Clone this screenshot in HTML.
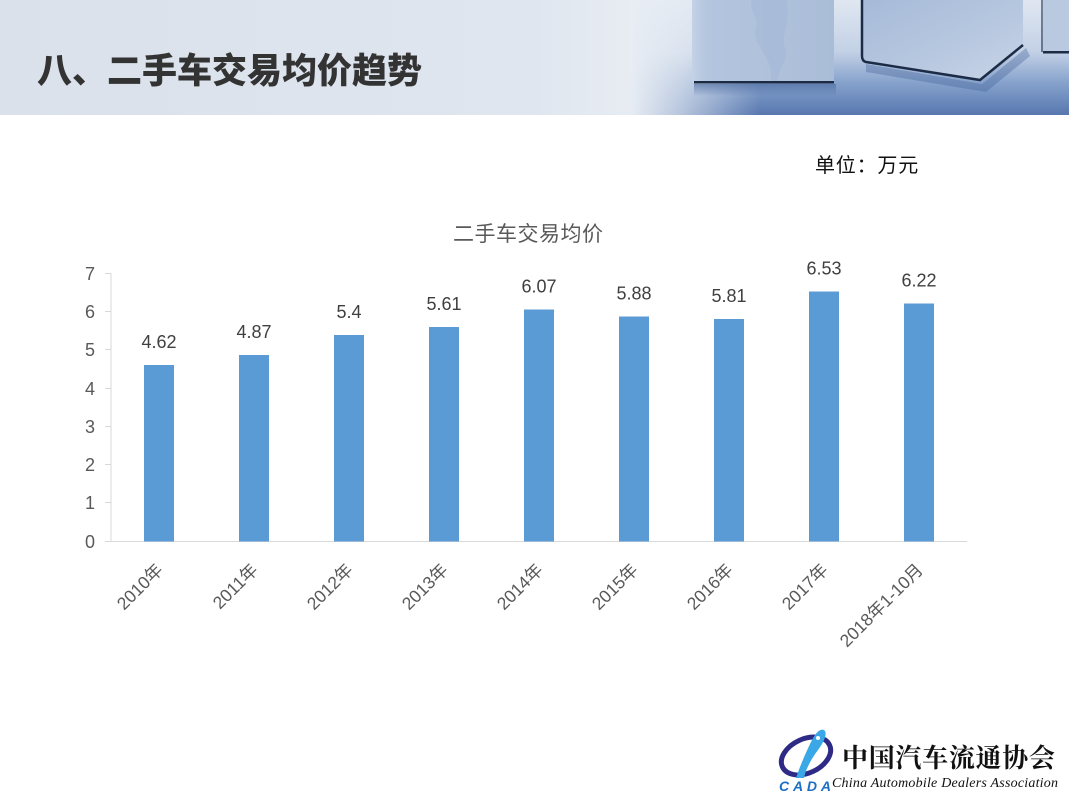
<!DOCTYPE html>
<html>
<head>
<meta charset="utf-8">
<style>
  html,body{margin:0;padding:0;background:#fff;}
  body{width:1069px;height:800px;overflow:hidden;position:relative;}
  svg{display:block;}
</style>
</head>
<body>
<svg width="1069" height="800" viewBox="0 0 1069 800" xmlns="http://www.w3.org/2000/svg">
  <defs>
    <linearGradient id="hdrL" x1="0" y1="0" x2="1" y2="0">
      <stop offset="0" stop-color="#dae1eb"/>
      <stop offset="0.5" stop-color="#e0e6ef"/>
      <stop offset="0.6" stop-color="#e8edf4"/>
      <stop offset="0.66" stop-color="#eef2f7"/>
      <stop offset="1" stop-color="#e6ecf3"/>
    </linearGradient>
    <linearGradient id="floorV" x1="0" y1="0" x2="0" y2="1">
      <stop offset="0" stop-color="#e0e7f1"/>
      <stop offset="0.45" stop-color="#c3d1e6"/>
      <stop offset="0.72" stop-color="#86a2cc"/>
      <stop offset="1" stop-color="#5777af"/>
    </linearGradient>
    <linearGradient id="fadeH" x1="0" y1="0" x2="1" y2="0">
      <stop offset="0" stop-color="#e8edf4" stop-opacity="1"/>
      <stop offset="0.4" stop-color="#e8edf4" stop-opacity="0.65"/>
      <stop offset="1" stop-color="#e8edf4" stop-opacity="0"/>
    </linearGradient>
    <linearGradient id="cube1" x1="0" y1="0" x2="1" y2="0">
      <stop offset="0" stop-color="#c4d2e6"/>
      <stop offset="0.1" stop-color="#b4c5de"/>
      <stop offset="1" stop-color="#aabdd8"/>
    </linearGradient>
    <linearGradient id="cube2" x1="0" y1="0" x2="1" y2="1">
      <stop offset="0" stop-color="#a6bad8"/>
      <stop offset="0.6" stop-color="#b8c8e0"/>
      <stop offset="1" stop-color="#c8d5e7"/>
    </linearGradient>
    <linearGradient id="shadowG" x1="0" y1="0" x2="0" y2="1">
      <stop offset="0" stop-color="#3f5f96" stop-opacity="0.55"/>
      <stop offset="1" stop-color="#3f5f96" stop-opacity="0"/>
    </linearGradient>
  </defs>

  <!-- Header -->
  <rect x="0" y="0" width="1069" height="115" fill="url(#hdrL)"/>
  <rect x="630" y="0" width="439" height="115" fill="url(#floorV)"/>
  <rect x="630" y="0" width="130" height="115" fill="url(#fadeH)"/>

  <!-- cube 1 -->
  <rect x="694" y="84" width="142" height="12" fill="url(#shadowG)"/>
  <rect x="692" y="0" width="142" height="82" fill="url(#cube1)"/>
  <path d="M752 0 C748 10 760 18 756 28 C752 40 765 52 770 66 C772 74 770 80 772 82 L778 82 C776 70 790 60 785 48 C780 36 792 22 786 0 Z" fill="#a2b6d5" opacity="0.5"/>
  <rect x="694" y="81" width="140" height="2.5" fill="#1c2b44"/>

  <!-- cube 2 -->
  <path d="M866 64 L982 84 L1026 48 L1030 56 L986 92 L866 72 Z" fill="#3f5f96" opacity="0.35"/>
  <path d="M862 0 L1023 0 L1023 45 L980 80 L866 62 Q862 60 862 56 Z" fill="url(#cube2)"/>
  <path d="M862 0 L862 56 Q862 61 866 62 L980 80 L1023 45" fill="none" stroke="#1d2c46" stroke-width="2.5"/>

  <!-- cube 3 -->
  <rect x="1043" y="0" width="26" height="52" fill="#b9c9e0"/>
  <rect x="1043" y="51" width="26" height="2.5" fill="#1d2c46"/>
  <rect x="1041" y="0" width="2" height="52" fill="#2a3b58" opacity="0.6"/>

  <!-- Title -->
  <text x="37" y="83" font-family="'Noto Sans CJK SC',sans-serif" font-size="35" font-weight="900" fill="#333">八、二手车交易均价趋势</text>

  <!-- Unit -->
  <text x="815" y="172" font-family="'Noto Sans CJK SC',sans-serif" font-size="20" letter-spacing="0.8" fill="#111">单位：万元</text>

  <!-- Chart title -->
  <text x="453" y="241" font-family="'Noto Sans CJK SC',sans-serif" font-size="21" letter-spacing="0.5" fill="#595959">二手车交易均价</text>

  <!-- Axes -->
  <g stroke="#d9d9d9" stroke-width="1">
    <line x1="111" y1="273" x2="111" y2="541.5"/>
    <line x1="105" y1="541.5" x2="967" y2="541.5"/>
    <line x1="105" y1="273.5" x2="111" y2="273.5"/>
    <line x1="105" y1="311.5" x2="111" y2="311.5"/>
    <line x1="105" y1="349.5" x2="111" y2="349.5"/>
    <line x1="105" y1="388.5" x2="111" y2="388.5"/>
    <line x1="105" y1="426.5" x2="111" y2="426.5"/>
    <line x1="105" y1="464.5" x2="111" y2="464.5"/>
    <line x1="105" y1="502.5" x2="111" y2="502.5"/>
  </g>

  <!-- Y labels -->
  <g font-family="'Liberation Sans',sans-serif" font-size="18" fill="#595959" text-anchor="end">
    <text x="95" y="280">7</text>
    <text x="95" y="318">6</text>
    <text x="95" y="356">5</text>
    <text x="95" y="395">4</text>
    <text x="95" y="433">3</text>
    <text x="95" y="471">2</text>
    <text x="95" y="509">1</text>
    <text x="95" y="548">0</text>
  </g>

  <!-- Bars -->
  <g fill="#5b9bd5">
    <rect x="144" y="365" width="30" height="176.5"/>
    <rect x="239" y="355" width="30" height="186.5"/>
    <rect x="334" y="335" width="30" height="206.5"/>
    <rect x="429" y="327" width="30" height="214.5"/>
    <rect x="524" y="309.5" width="30" height="232"/>
    <rect x="619" y="316.5" width="30" height="225"/>
    <rect x="714" y="319" width="30" height="222.5"/>
    <rect x="809" y="291.5" width="30" height="250"/>
    <rect x="904" y="303.5" width="30" height="238"/>
  </g>

  <!-- Data labels -->
  <g font-family="'Liberation Sans',sans-serif" font-size="18" fill="#404040" text-anchor="middle">
    <text x="159" y="348">4.62</text>
    <text x="254" y="338">4.87</text>
    <text x="349" y="318">5.4</text>
    <text x="444" y="310">5.61</text>
    <text x="539" y="292.5">6.07</text>
    <text x="634" y="299.5">5.88</text>
    <text x="729" y="302">5.81</text>
    <text x="824" y="274.5">6.53</text>
    <text x="919" y="286.5">6.22</text>
  </g>

  <!-- X labels -->
  <g font-family="'Liberation Sans','Noto Sans CJK SC',sans-serif" font-size="17.5" fill="#595959" text-anchor="end">
    <text transform="translate(164,571) rotate(-45)">2010年</text>
    <text transform="translate(259,571) rotate(-45)">2011年</text>
    <text transform="translate(354,571) rotate(-45)">2012年</text>
    <text transform="translate(449,571) rotate(-45)">2013年</text>
    <text transform="translate(544,571) rotate(-45)">2014年</text>
    <text transform="translate(639,571) rotate(-45)">2015年</text>
    <text transform="translate(734,571) rotate(-45)">2016年</text>
    <text transform="translate(829,571) rotate(-45)">2017年</text>
    <text transform="translate(924,571) rotate(-45)">2018年1-10月</text>
  </g>

  <!-- Logo -->
  <g>
    <ellipse cx="806" cy="756" rx="26" ry="17" transform="rotate(-25 806 756)" fill="none" stroke="#2e2b86" stroke-width="5"/>
    <path d="M796 778 C800 766 806 752 812 740 C815 734 820 728 824 730 C828 733 824 742 818 750 C812 758 806 768 804 778 Z" fill="#3aa7e6"/>
    <circle cx="818" cy="738" r="2" fill="#fff"/>
    <text x="779" y="791" font-family="'Liberation Sans',sans-serif" font-size="14" font-weight="bold" font-style="italic" fill="#1d6fc4" textLength="52">CADA</text>
  </g>
  <text x="842" y="767" font-family="'Noto Serif CJK SC',serif" font-size="26" font-weight="bold" fill="#111" textLength="213">中国汽车流通协会</text>
  <text x="832" y="787" font-family="'Liberation Serif',serif" font-size="14" font-style="italic" fill="#111" textLength="226">China Automobile Dealers Association</text>
</svg>
</body>
</html>
